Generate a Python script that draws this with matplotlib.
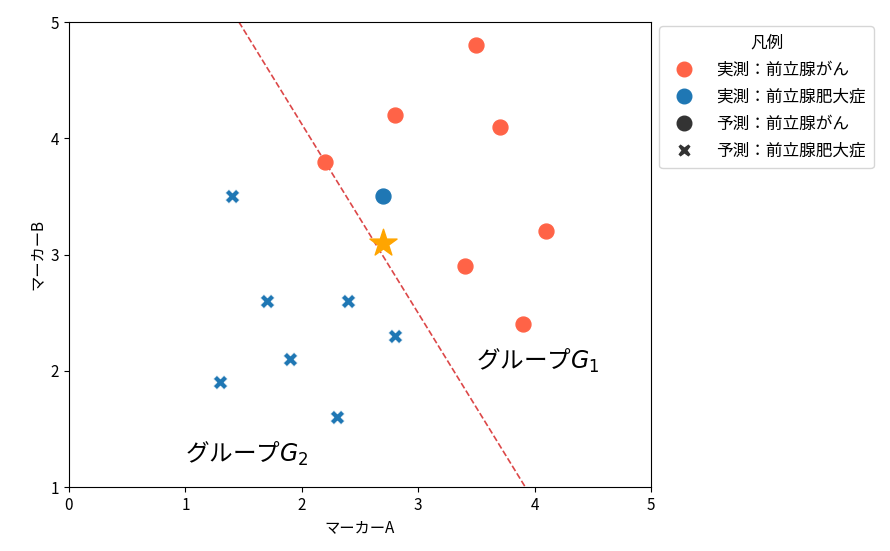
import numpy as np
import matplotlib.pyplot as plt
from matplotlib.lines import Line2D

plt.rcParams['font.family'] = ['Noto Sans CJK JP', 'DejaVu Sans']

# 実測：前立腺がん (group 1)
g1_x = [3.5, 2.8, 3.7, 2.2, 4.1, 3.4, 3.9]
g1_y = [4.8, 4.2, 4.1, 3.8, 3.2, 2.9, 2.4]
# 予測：前立腺肥大症 (group 2)
g2_x = [1.4, 1.7, 2.4, 2.8, 1.9, 1.3, 2.3]
g2_y = [3.5, 2.6, 2.6, 2.3, 2.1, 1.9, 1.6]
# 実測：前立腺肥大症 but predicted as がん
mis_x = [2.7]
mis_y = [3.5]
# new sample
star_x = [2.7]
star_y = [3.1]
# discriminant line ends
line_x = [1.46, 3.92]
line_y = [5.0, 1.0]

red = '#FF6347'
blue = '#1f77b4'

fig, ax = plt.subplots(figsize=(8.9, 5.51), dpi=100)
fig.subplots_adjust(left=0.0775, right=0.7315, top=0.96, bottom=0.116)

ax.scatter(g1_x, g1_y, s=115, color=red, marker='o', zorder=3)
ax.scatter(g2_x, g2_y, s=105, color=blue, marker='X', edgecolor='white', linewidth=0.5, zorder=3)
ax.scatter(mis_x, mis_y, s=115, color=blue, marker='o', zorder=3)
ax.plot(line_x, line_y, '--', color='#d62728', lw=1.2, alpha=0.85, zorder=2)
ax.scatter(star_x, star_y, s=420, color='orange', marker='*', zorder=4)

ax.text(3.5, 1.96, 'グループ$G_1$', fontsize=17, ha='left', va='bottom')
ax.text(1.0, 1.16, 'グループ$G_2$', fontsize=17, ha='left', va='bottom')

ax.set_xlim(0, 5)
ax.set_ylim(1, 5)
ax.set_xticks([0, 1, 2, 3, 4, 5])
ax.set_yticks([1, 2, 3, 4, 5])
ax.tick_params(labelsize=11)
ax.set_xlabel('マーカーA', fontsize=11)
ax.set_ylabel('マーカーB', fontsize=11)

handles = [
    Line2D([], [], ls='', marker='o', ms=10.5, color=red),
    Line2D([], [], ls='', marker='o', ms=10.5, color=blue),
    Line2D([], [], ls='', marker='o', ms=10.5, color='#333333'),
    Line2D([], [], ls='', marker='X', ms=10.5, color='#333333', markeredgecolor='white'),
]
labels = ['実測：前立腺がん', '実測：前立腺肥大症', '予測：前立腺がん', '予測：前立腺肥大症']
ax.legend(handles, labels, title='凡例', loc='upper left', bbox_to_anchor=(1.014, 0.991),
          borderaxespad=0, fontsize=12, title_fontsize=12, handletextpad=0.9,
          labelspacing=0.6, borderpad=0.5)

plt.savefig('out.png')
